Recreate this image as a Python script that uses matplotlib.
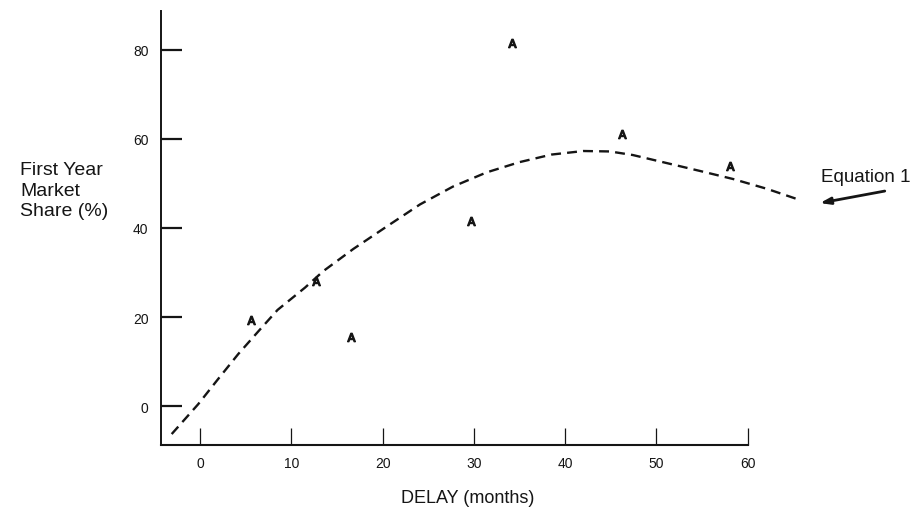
import matplotlib
matplotlib.use("Agg")
import matplotlib.pyplot as plt

# Equation 1 fitted curve (delay in months, first-year market share %)
curve_x = [-3.1, -0.2, 2.0, 4.2, 6.4, 8.5, 11.5, 13.5, 16.8, 20.5, 24.1, 27.7, 31.4,
           35.0, 38.5, 42.0, 44.9, 47.4, 51.1, 54.8, 58.4, 62.1, 65.4]
curve_y = [-6.3, 0.4, 6.1, 11.7, 16.8, 21.6, 26.6, 30.3, 35.3, 40.4, 45.3, 49.3, 52.5,
           54.8, 56.5, 57.3, 57.2, 56.4, 54.6, 52.8, 51.0, 48.8, 46.5]

# Observed points ("A")
pts_x = [5.6, 12.7, 16.5, 29.7, 34.2, 46.2, 58.0]
pts_y = [19.3, 28.1, 15.5, 41.6, 81.6, 61.1, 54.0]

x_ticks = [0, 10, 20, 30, 40, 50, 60]
y_ticks = [0, 20, 40, 60, 80]
y_tick_labels = ["0", "20", "40", "60", "80"]

plt.rcParams['font.family'] = ['Liberation Sans', 'DejaVu Sans']

fig = plt.figure(figsize=(9.22, 5.10), dpi=100)
ax = fig.add_axes([161/922, 64/510, (922-161)/922, (446-12)/510])
ax.set_xlim(-4.27, 79.08)
ax.set_ylim(-8.76, 88.76)

ink = "#151515"
ax.plot(curve_x, curve_y, color=ink, lw=1.7, ls=(0, (4.2, 2.6)), clip_on=False,
        solid_joinstyle='round')
ax.plot(pts_x, pts_y, ls='none', marker=r'$\mathsf{A}$', ms=6, color=ink)

for s in ['top', 'right']:
    ax.spines[s].set_visible(False)
ax.spines['left'].set_linewidth(1.4)
ax.spines['bottom'].set_linewidth(1.5)
ax.spines['left'].set_color(ink)
ax.spines['bottom'].set_color(ink)
ax.spines['bottom'].set_bounds(-4.27, 60)

ax.set_yticks(y_ticks)
ax.set_yticklabels(y_tick_labels)
ax.set_xticks(x_ticks)
ax.tick_params(axis='y', direction='in', length=15, width=1.6, pad=9,
               labelsize=10, colors=ink)
ax.tick_params(axis='x', direction='in', length=12, width=0.9, pad=8,
               labelsize=10, colors=ink)

fig.text(20/922, 1 - 191/510, "First Year\nMarket\nShare (%)", ha='left', va='center',
         fontsize=14, linespacing=1.3, color=ink)
fig.text(468/922, 1 - 499/510, "DELAY (months)", ha='center', va='center',
         fontsize=13, color=ink)

ax.annotate("", xy=(67.9, 45.6), xytext=(75.0, 48.3),
            arrowprops=dict(arrowstyle='-|>,head_length=0.6,head_width=0.2',
                            lw=2, color=ink, shrinkA=0, shrinkB=0))
ax.text(821/922, 1 - 177/510, "Equation 1", transform=fig.transFigure,
        ha='left', va='center', fontsize=13.5, color=ink)

fig.savefig("out.png", dpi=100, facecolor='white')
